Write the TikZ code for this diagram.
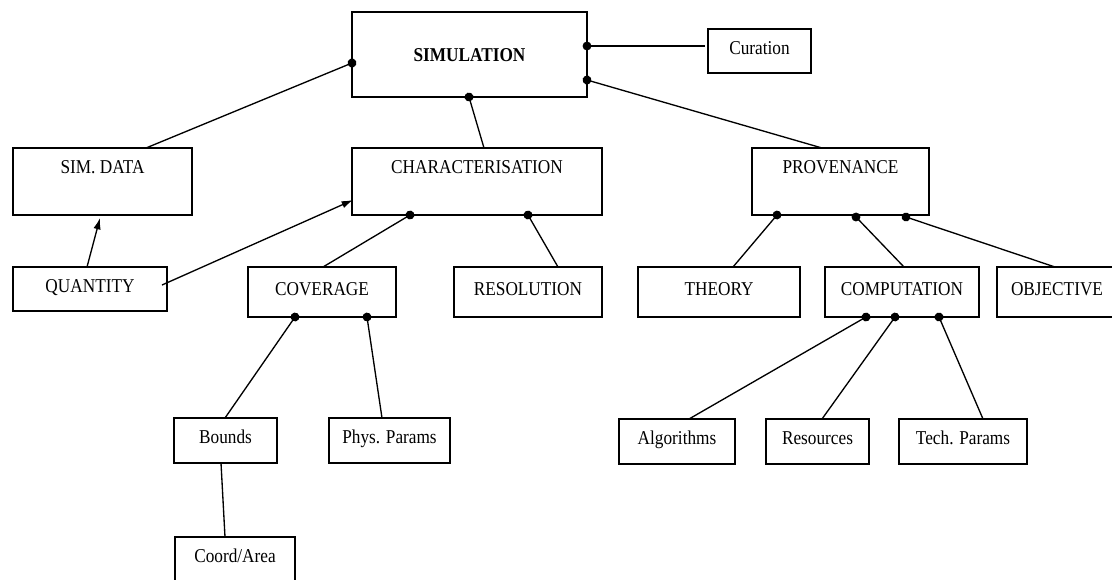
\documentclass[tikz,border=0pt]{standalone}
\usepackage{fontspec}
\setmainfont{Liberation Serif}[FakeStretch=0.88]
\usetikzlibrary{arrows.meta,calc,positioning}
\tikzset{>=latex}

\begin{document}
\begin{tikzpicture}[x=0.75pt, y=-0.75pt,
    box/.style={draw, line width=1.1pt, inner sep=0pt, outer sep=0pt, anchor=north west, font=\fontsize{14.7}{17}\selectfont, text height=9.7pt, text depth=4.5pt},
    tallbox/.style={box, minimum height=50.25pt, text depth=21.8pt},
    link/.style={line width=1pt},
    dot/.style={link, -{Circle[length=6.6pt]}, shorten >=-3.3pt},
    arr/.style={link, -{Latex[length=8.5pt,width=5.5pt]}}]

    \useasboundingbox (0,0) rectangle (1112,579);
    \clip (0,0) rectangle (1112,579);

    % top
    \node[box, minimum width=176.25pt, minimum height=63.75pt, text height=10.5pt, text depth=0pt, font=\fontsize{14.7}{17}\selectfont\bfseries] (sim) at (352,12) {SIMULATION};
    \node[box, minimum width=77.25pt, minimum height=33pt] (cur) at (708,29) {Curation};

    % 2nd level
    \node[tallbox, minimum width=134.25pt] (simdata) at (13,148) {SIM. DATA};
    \node[tallbox, minimum width=187.5pt] (charac) at (352,148) {CHARACTERISATION};
    \node[tallbox, minimum width=132.75pt] (prov) at (752,148) {PROVENANCE};

    % 3rd level
    \node[box, minimum width=115.5pt, minimum height=33pt] (quant) at (13,267) {QUANTITY};
    \node[box, minimum width=111pt, minimum height=37.5pt] (cover) at (248,267) {COVERAGE};
    \node[box, minimum width=111pt, minimum height=37.5pt] (resol) at (454,267) {RESOLUTION};
    \node[box, minimum width=121.5pt, minimum height=37.5pt] (theory) at (638,267) {THEORY};
    \node[box, minimum width=115.5pt, minimum height=37.5pt] (comput) at (825,267) {COMPUTATION};
    \node[box, minimum width=90pt, minimum height=37.5pt] (object) at (997,267) {OBJECTIVE};

    % 4th level
    \node[box, minimum width=77.25pt, minimum height=33.75pt] (bounds) at (174,418) {Bounds};
    \node[box, minimum width=90.75pt, minimum height=33.75pt] (phys) at (329,418) {Phys. Params};
    \node[box, minimum width=87pt, minimum height=33.75pt] (algo) at (619,419) {Algorithms};
    \node[box, minimum width=77.25pt, minimum height=33.75pt] (resou) at (766,419) {Resources};
    \node[box, minimum width=96pt, minimum height=33.75pt] (tech) at (899,419) {Tech. Params};
    \node[box, minimum width=90pt, minimum height=33.75pt] (coord) at (175,537) {Coord/Area};

    % links to SIMULATION
    \draw[dot] ($(simdata.north west)+(133,0)$) -- ($(sim.north west)+(0,51)$);
    \draw[dot] ($(charac.north west)+(132,0)$) -- ($(sim.south west)+(117,0)$);
    \draw[dot] ($(prov.north west)+(70,0)$) -- ($(sim.north east)+(0,68)$);
    \draw[dot] ($(cur.north west)+(-3,17)$) -- ($(sim.north east)+(0,34)$);

    % QUANTITY
    \draw[arr] ($(quant.north west)+(74,0)$) -- ($(simdata.south west)+(87,3)$);
    \draw[arr] ($(quant.north west)+(149,18)$) -- ($(charac.south west)+(1,-15)$);

    % links to CHARACTERISATION
    \draw[dot] ($(cover.north west)+(75,0)$) -- ($(charac.south west)+(58,0)$);
    \draw[dot] ($(resol.north west)+(104,0)$) -- ($(charac.south west)+(176,0)$);

    % links to PROVENANCE
    \draw[dot] ($(theory.north west)+(95,0)$) -- ($(prov.south west)+(25,0)$);
    \draw[dot] ($(comput.north west)+(79,0)$) -- ($(prov.south west)+(104,2)$);
    \draw[dot] ($(object.north west)+(58,0)$) -- ($(prov.south west)+(154,2)$);

    % links to COVERAGE
    \draw[dot] ($(bounds.north west)+(51,0)$) -- ($(cover.south west)+(47,0)$);
    \draw[dot] ($(phys.north west)+(53,0)$) -- ($(cover.south west)+(119,0)$);
    \draw[link] ($(coord.north west)+(50,0)$) -- ($(bounds.south west)+(47,0)$);

    % links to COMPUTATION
    \draw[dot] ($(algo.north west)+(70,0)$) -- ($(comput.south west)+(41,0)$);
    \draw[dot] ($(resou.north west)+(56,0)$) -- ($(comput.south west)+(70,0)$);
    \draw[dot] ($(tech.north west)+(84,0)$) -- ($(comput.south west)+(114,0)$);
\end{tikzpicture}
\end{document}
